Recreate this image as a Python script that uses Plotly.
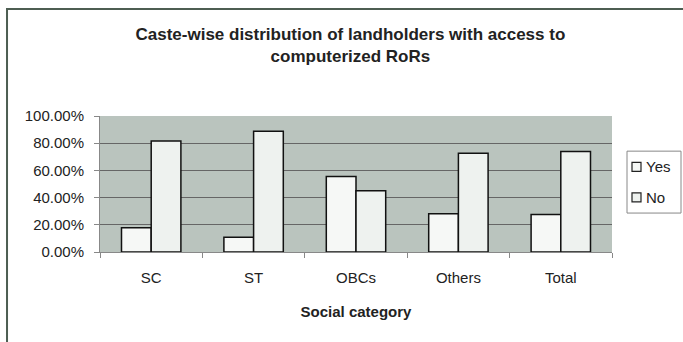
import plotly.graph_objects as go

categories = ["SC", "ST", "OBCs", "Others", "Total"]
series_names = ["Yes", "No"]
yes_vals = [17.9, 10.8, 55.6, 28.2, 27.5]
no_vals = [81.6, 88.7, 45.1, 72.7, 73.9]
y_tickvals = [0, 20, 40, 60, 80, 100]
y_ticktext = ["0.00%", "20.00%", "40.00%", "60.00%", "80.00%", "100.00%"]

font_family = "Liberation Sans, Arial, sans-serif"
bar_fills = ["#f6f8f6", "#eef2ef"]

fig = go.Figure()
for name, vals, fill in zip(series_names, [yes_vals, no_vals], bar_fills):
    fig.add_trace(go.Bar(name=name, x=categories, y=vals,
                         marker=dict(color=fill, line=dict(color="#111111", width=1.5))))

fig.update_layout(
    width=683, height=342,
    margin=dict(l=100, r=71, t=116, b=90, autoexpand=False),
    paper_bgcolor="white",
    plot_bgcolor="#bac4be",
    barmode="group", bargap=0.42, bargroupgap=0,
    font=dict(family=font_family, size=15, color="#222222"),
    title=dict(text="<b>Caste-wise distribution of landholders with access to<br>computerized RoRs</b>",
               x=0.513, xanchor="center", y=0.884, yanchor="top",
               font=dict(size=17, color="#222222")),
    showlegend=False,
)
fig.update_xaxes(showline=True, linecolor="#888888", linewidth=1,
                 ticks="outside", tickson="boundaries", ticklen=5, tickcolor="#888888",
                 ticklabelstandoff=12,
                 title=dict(text="<b>Social category</b>", font=dict(size=15), standoff=21),
                 tickfont=dict(size=15))
fig.update_yaxes(range=[0, 100], tickvals=y_tickvals, ticktext=y_ticktext,
                 showgrid=True, gridcolor="#666666", gridwidth=1,
                 showline=True, linecolor="#888888", ticks="outside", ticklen=5,
                 tickcolor="#888888", tickfont=dict(size=15), zeroline=False,
                 ticklabelstandoff=7)

# chart frame
fig.add_shape(type="rect", xref="paper", yref="paper",
              x0=-0.1816, x1=1.2, y0=-0.75, y1=1.786,
              line=dict(color="#4d5e52", width=2), layer="below")

# legend box (drawn in paper coordinates)
lx0, lx1 = (627 - 100) / 512, (681 - 100) / 512
ly_top, ly_bot = (251.7 - 150.7) / 136.2, (251.7 - 212.7) / 136.2
fig.add_shape(type="rect", xref="paper", yref="paper",
              x0=lx0, x1=lx1, y0=ly_bot, y1=ly_top,
              line=dict(color="#888888", width=1), fillcolor="white")
item_y_px = [166.5, 197]
for name, fill, ypx in zip(series_names, bar_fills, item_y_px):
    yc = (251.7 - ypx) / 136.2
    h = 4.5 / 136.2
    fig.add_shape(type="rect", xref="paper", yref="paper",
                  x0=(632 - 100) / 512, x1=(641 - 100) / 512, y0=yc - h, y1=yc + h,
                  line=dict(color="#222222", width=1.2), fillcolor=fill)
    fig.add_annotation(text=name, xref="paper", yref="paper",
                       x=(644 - 100) / 512, y=yc, xanchor="left", yanchor="middle",
                       showarrow=False, font=dict(size=15, color="#222222"))

fig.write_html("out.html")
